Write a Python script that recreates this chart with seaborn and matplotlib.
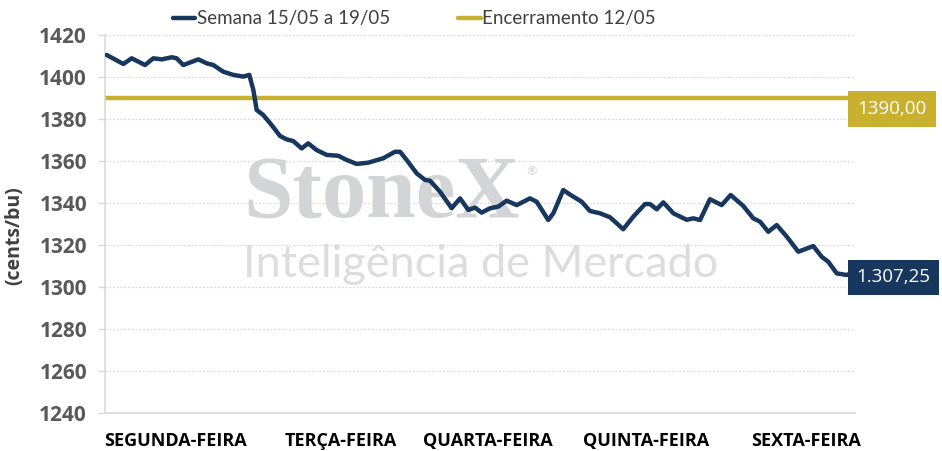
import matplotlib
matplotlib.use("Agg")
import matplotlib.pyplot as plt
import seaborn as sns
import pandas as pd

# trading time across the week, in days from Monday open
time_days = [0.011, 0.122, 0.178, 0.267, 0.322, 0.378, 0.445, 0.478, 0.522, 0.622,
             0.678, 0.722, 0.789, 0.855, 0.922, 0.962, 0.989, 1.011, 1.055, 1.111,
             1.167, 1.211, 1.255, 1.311, 1.355, 1.411, 1.478, 1.555, 1.611, 1.678,
             1.755, 1.855, 1.933, 1.967, 2.011, 2.078, 2.133, 2.167, 2.233, 2.311,
             2.367, 2.422, 2.467, 2.511, 2.567, 2.622, 2.678, 2.745, 2.833, 2.878,
             2.955, 2.989, 3.055, 3.100, 3.178, 3.233, 3.300, 3.367, 3.455, 3.522,
             3.600, 3.633, 3.678, 3.722, 3.789, 3.878, 3.922, 3.967, 4.033, 4.111,
             4.171, 4.255, 4.322, 4.367, 4.422, 4.478, 4.545, 4.622, 4.722, 4.778,
             4.822, 4.878, 4.945, 4.990]
price = [1410.5, 1406.2, 1408.9, 1405.7, 1408.9, 1408.4, 1409.4, 1408.9, 1405.7, 1408.4,
         1406.5, 1405.7, 1402.5, 1401.0, 1400.2, 1401.0, 1393.8, 1384.3, 1381.9, 1377.1,
         1371.9, 1370.3, 1369.5, 1366.0, 1368.4, 1365.2, 1362.9, 1362.5, 1360.5, 1358.6,
         1359.2, 1361.3, 1364.4, 1364.4, 1360.5, 1354.1, 1351.0, 1350.6, 1345.4, 1337.5,
         1342.2, 1336.7, 1337.8, 1335.4, 1337.5, 1338.3, 1341.1, 1339.0, 1342.2, 1340.6,
         1331.9, 1335.1, 1346.2, 1344.0, 1340.6, 1336.2, 1335.1, 1333.2, 1327.5, 1333.5,
         1339.5, 1339.5, 1337.0, 1340.3, 1335.1, 1332.0, 1332.7, 1331.9, 1341.8, 1339.0,
         1343.8, 1338.6, 1332.7, 1331.1, 1326.3, 1329.5, 1324.0, 1316.8, 1319.5, 1314.4,
         1312.0, 1306.5, 1305.7, 1307.25]
close_prev = 1390.00
last_price = 1307.25

days = ["SEGUNDA-FEIRA", "TERÇA-FEIRA", "QUARTA-FEIRA", "QUINTA-FEIRA", "SEXTA-FEIRA"]
series_week = "Semana 15/05 a 19/05"
series_close = "Encerramento 12/05"

NAVY = "#17375E"
GOLD = "#C9B12F"
GRID = "#D9D9D9"

sns.set_theme(style="white")
plt.rcParams["font.family"] = ["Open Sans", "DejaVu Sans"]

df = pd.DataFrame({"t": time_days, "price": price})

fig = plt.figure(figsize=(9.42, 4.51), dpi=100)
ax = fig.add_axes([105 / 942, 38 / 451, 750 / 942, 378 / 451])

# watermark
ax.text(0.184, 0.516, "StoneX", transform=ax.transAxes, fontsize=64,
        family="Liberation Serif", fontweight="bold", color="#D3D4D6", va="baseline", zorder=0)
ax.text(0.56, 0.63, "®", transform=ax.transAxes, fontsize=9,
        family="DejaVu Sans", color="#D3D4D6", zorder=0)
ax.text(0.184, 0.36, "Inteligência de Mercado", transform=ax.transAxes, fontsize=32.5,
        family="Lato", fontweight="normal", color="#DDDDDD", va="baseline", zorder=0)

sns.lineplot(data=df, x="t", y="price", ax=ax, color=NAVY, lw=3.2,
             label=series_week, zorder=3, solid_joinstyle="round", solid_capstyle="round")
ax.axhline(close_prev, color=GOLD, lw=3.2, label=series_close, zorder=2)

ax.set_xlim(0, 5)
ax.set_ylim(1240, 1420)
ax.set_yticks(range(1240, 1421, 20))
ax.grid(axis="y", color=GRID, ls=(0, (1.5, 1.5)), lw=0.9)
ax.grid(axis="x", visible=False)

for side in ["top", "right"]:
    ax.spines[side].set_visible(False)
ax.spines["left"].set_color(GRID)
ax.spines["bottom"].set_color(GRID)
ax.spines["left"].set_linewidth(1.2)
ax.spines["bottom"].set_linewidth(1.2)

ax.set_xticks([0, 1, 2, 3, 4, 5], minor=True)
ax.set_xticks([0.47, 1.57, 2.55, 3.61, 4.67])
ax.set_xticklabels(days, fontsize=13, fontweight="bold", color="black")
ax.tick_params(axis="x", which="major", length=0, pad=14)
ax.tick_params(axis="x", which="minor", direction="inout", length=12, width=1.2, color=GRID)
ax.tick_params(axis="y", length=5, width=1, color=GRID, pad=8, labelsize=15,
               labelcolor="#595959")
ax.tick_params(axis="y", left=True)
for lab in ax.get_yticklabels():
    lab.set_fontweight("bold")

ax.set_xlabel("")
ax.set_ylabel("(cents/bu)", fontsize=14, fontweight="bold", color="#404040")
ax.yaxis.set_label_coords(-0.107, 0.468)

# value labels at the right edge
ax.annotate(f"{close_prev:.2f}".replace(".", ","), xy=(1, close_prev),
            xycoords=("axes fraction", "data"), xytext=(2, -8), textcoords="offset points",
            ha="left", va="center", fontsize=13.5, color="white",
            bbox=dict(boxstyle="square,pad=0.5", fc=GOLD, ec="none"))
ax.annotate("1.307,25", xy=(1, last_price),
            xycoords=("axes fraction", "data"), xytext=(1, -4), textcoords="offset points",
            ha="left", va="center", fontsize=13.5, color="white",
            bbox=dict(boxstyle="square,pad=0.45", fc=NAVY, ec="none"))

ax.legend(loc="center", bbox_to_anchor=(0.44, 0.958), bbox_transform=fig.transFigure,
          ncol=2, frameon=False, handlelength=1.2, handletextpad=0.1, columnspacing=3.6,
          prop={"family": "Lato", "size": 13.5}, labelcolor="#404040")

fig.savefig("out.png", dpi=100)
